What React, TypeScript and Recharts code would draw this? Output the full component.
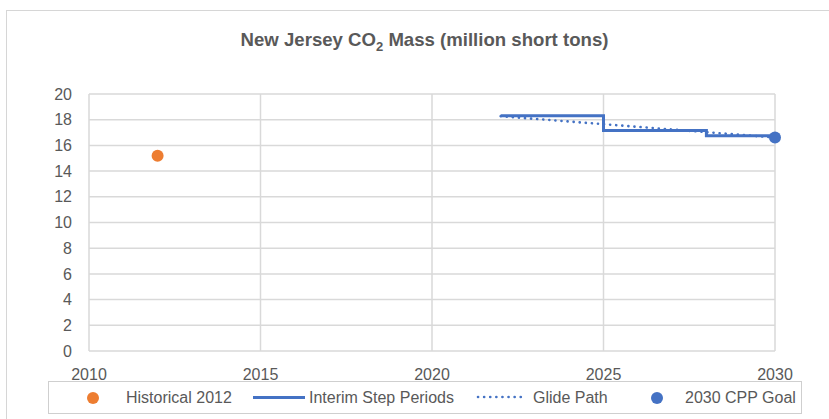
import React from 'react';
import { ComposedChart, Line, Scatter, XAxis, YAxis, CartesianGrid } from 'recharts';

// ---- data ----
const historical = [{ x: 2012, y: 15.2 }];
const interimYears = [2022, 2025, 2025, 2028, 2028, 2030];
const interimValues = [18.3, 18.3, 17.16, 17.16, 16.75, 16.75];
const glideYears = [2022, 2025, 2028, 2030];
const glideValues = [18.27, 17.65, 17.03, 16.61];
const goal = [{ x: 2030, y: 16.61 }];
const xTicks = [2010, 2015, 2020, 2025, 2030];
const yTicks = [0, 2, 4, 6, 8, 10, 12, 14, 16, 18, 20];

const interim = interimYears.map((x, i) => ({ x, y: interimValues[i] }));
const glide = glideYears.map((x, i) => ({ x, y: glideValues[i] }));

const ORANGE = '#ED7D31';
const BLUE = '#4472C4';
const TEXT = '#595959';
const GRID = '#d9d9d9';
const FONT = '"Liberation Sans", Arial, sans-serif';

const Dot = (color: string) => (props: any) => (
  <circle cx={props.cx} cy={props.cy} r={6} fill={color} />
);

export default function App() {
  const tick = { fill: TEXT, fontSize: 16, fontFamily: FONT };
  return (
    <div style={{ position: 'absolute', left: 0, top: 0, width: 829, height: 419, background: '#fff', overflow: 'hidden', fontFamily: FONT }}>
      <div style={{ position: 'absolute', left: 6, top: 10, width: 900, height: 500, border: '1px solid #d6d6d6' }} />
      <div style={{ position: 'absolute', left: 0, width: 849, top: 30, textAlign: 'center', fontWeight: 'bold', fontSize: 18.6, color: TEXT, lineHeight: '20px' }}>
        New Jersey CO<sub style={{ fontSize: '0.7em', lineHeight: 0 }}>2</sub> Mass (million short tons)
      </div>
      <div style={{ position: 'absolute', left: 0, top: 0 }}>
        <ComposedChart width={829} height={419} margin={{ top: 94, right: 54, bottom: 0, left: 0 }}>
          <CartesianGrid stroke={GRID} strokeWidth={1.5} />
          <XAxis
            dataKey="x"
            type="number"
            domain={[2010, 2030]}
            ticks={xTicks}
            axisLine={false}
            tickLine={false}
            tickSize={0}
            tickMargin={18}
            height={68}
            tick={tick}
            interval={0}
          />
          <YAxis
            dataKey="y"
            type="number"
            domain={[0, 20]}
            ticks={yTicks}
            axisLine={false}
            tickLine={false}
            tickSize={0}
            tickMargin={17}
            width={89}
            tick={tick}
            interval={0}
          />
          <Line data={glide} dataKey="y" stroke={BLUE} strokeWidth={2.6} strokeLinecap="round" strokeDasharray="0.1 6" dot={false} isAnimationActive={false} />
          <Line data={interim} dataKey="y" stroke={BLUE} strokeWidth={3} dot={false} isAnimationActive={false} />
          <Scatter data={historical} dataKey="y" fill={ORANGE} shape={Dot(ORANGE)} isAnimationActive={false} />
          <Scatter data={goal} dataKey="y" fill={BLUE} shape={Dot(BLUE)} isAnimationActive={false} />
        </ComposedChart>
      </div>
      <div style={{ position: 'absolute', left: 48, top: 381, width: 752, height: 31, border: '1px solid #cfcfcf', background: '#fff' }} />
      <div style={{ position: 'absolute', left: 0, top: 0, width: 829, height: 419, fontSize: 16, color: TEXT }}>
        <span style={{ position: 'absolute', left: 87, top: 392, width: 12, height: 12, borderRadius: 6, background: ORANGE }} />
        <span style={{ position: 'absolute', left: 126, top: 388, lineHeight: '20px' }}>Historical 2012</span>
        <span style={{ position: 'absolute', left: 253, top: 396, width: 52, height: 3, background: BLUE }} />
        <span style={{ position: 'absolute', left: 309, top: 388, lineHeight: '20px' }}>Interim Step Periods</span>
        <svg style={{ position: 'absolute', left: 476, top: 392 }} width={52} height={10}>
          <line x1={2} y1={5} x2={50} y2={5} stroke={BLUE} strokeWidth={2.6} strokeLinecap="round" strokeDasharray="0.1 6" />
        </svg>
        <span style={{ position: 'absolute', left: 533, top: 388, lineHeight: '20px' }}>Glide Path</span>
        <span style={{ position: 'absolute', left: 651, top: 392, width: 12, height: 12, borderRadius: 6, background: BLUE }} />
        <span style={{ position: 'absolute', left: 685, top: 388, lineHeight: '20px' }}>2030 CPP Goal</span>
      </div>
    </div>
  );
}
